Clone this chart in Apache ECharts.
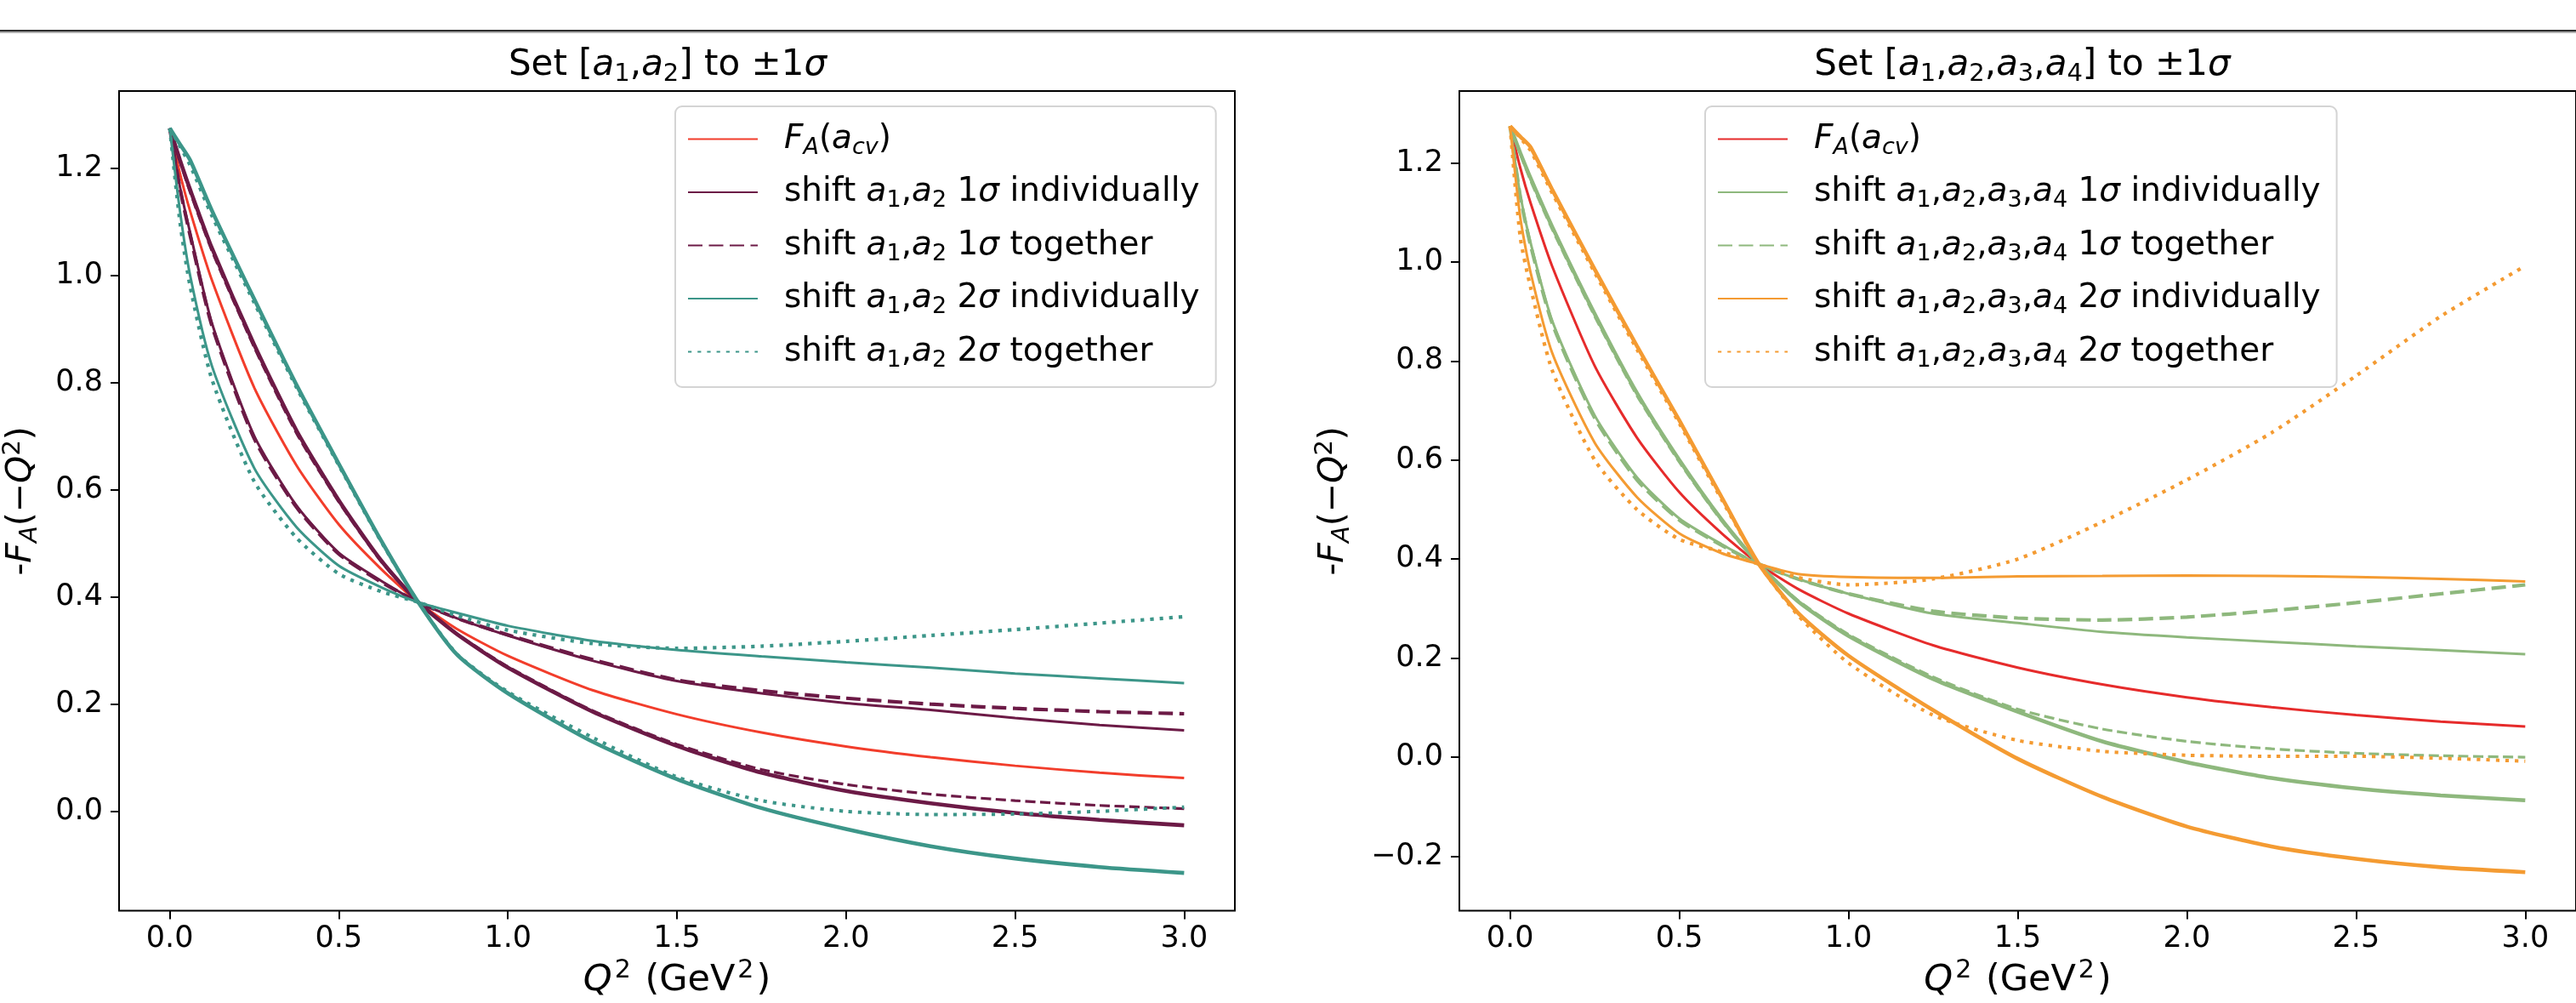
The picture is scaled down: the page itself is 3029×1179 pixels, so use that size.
<!DOCTYPE html>
<html><head><meta charset="utf-8">
<script src="https://cdn.jsdelivr.net/npm/echarts@6/dist/echarts.min.js"></script>
<style>html,body{margin:0;padding:0;background:#fff}#c{width:3029px;height:1179px}</style>
</head><body><div id="c"></div><script>
// ---- data ----
const Q2 = [0, 0.03, 0.06, 0.125, 0.25, 0.375, 0.5, 0.625, 0.735, 0.85, 1.0, 1.25, 1.5, 1.75, 2.0, 2.25, 2.5, 2.75, 3.0];
const X_TICKS = [0, 0.5, 1.0, 1.5, 2.0, 2.5, 3.0];
const Y_TICKS_L = [0, 0.2, 0.4, 0.6, 0.8, 1.0, 1.2];
const Y_TICKS_R = [-0.2, 0, 0.2, 0.4, 0.6, 0.8, 1.0, 1.2];

const FA_CV      = [1.274, 1.19, 1.12, 0.99, 0.79, 0.645, 0.535, 0.452, 0.39, 0.34, 0.29, 0.226, 0.181, 0.147, 0.121, 0.101, 0.085, 0.072, 0.062];
// left panel: shift a1,a2
const L1_IND_LO  = [1.274, 1.215, 1.16, 1.05, 0.87, 0.71, 0.58, 0.468, 0.39, 0.33, 0.268, 0.186, 0.122, 0.072, 0.038, 0.015, -0.003, -0.016, -0.026];
const L1_IND_HI  = [1.274, 1.165, 1.08, 0.91, 0.70, 0.57, 0.482, 0.43, 0.39, 0.36, 0.328, 0.281, 0.243, 0.22, 0.202, 0.189, 0.174, 0.161, 0.151];
const L1_TOG_LO  = [1.274, 1.212, 1.155, 1.045, 0.865, 0.705, 0.577, 0.466, 0.39, 0.331, 0.27, 0.188, 0.125, 0.078, 0.05, 0.032, 0.02, 0.011, 0.005];
const L1_TOG_HI  = [1.274, 1.162, 1.075, 0.905, 0.695, 0.567, 0.48, 0.428, 0.39, 0.36, 0.329, 0.283, 0.245, 0.225, 0.211, 0.2, 0.192, 0.186, 0.182];
const L2_IND_LO  = [1.274, 1.2445, 1.215, 1.12, 0.955, 0.795, 0.648, 0.505, 0.39, 0.292, 0.22, 0.13, 0.06, 0.006, -0.033, -0.065, -0.088, -0.104, -0.115];
const L2_IND_HI  = [1.274, 1.12, 1.0, 0.83, 0.64, 0.53, 0.458, 0.418, 0.39, 0.37, 0.346, 0.318, 0.301, 0.289, 0.278, 0.268, 0.257, 0.248, 0.239];
const L2_TOG_LO  = [1.274, 1.24, 1.205, 1.11, 0.948, 0.79, 0.645, 0.503, 0.39, 0.293, 0.223, 0.138, 0.064, 0.02, 0.0, -0.006, -0.005, 0.0, 0.008];
const L2_TOG_HI  = [1.274, 1.10, 0.98, 0.805, 0.615, 0.51, 0.443, 0.41, 0.39, 0.365, 0.338, 0.313, 0.304, 0.308, 0.317, 0.328, 0.339, 0.351, 0.363];
// right panel: shift a1..a4
const R1_IND_LO  = [1.274, 1.22, 1.17, 1.07, 0.895, 0.735, 0.6, 0.48, 0.39, 0.315, 0.245, 0.158, 0.092, 0.032, -0.01, -0.042, -0.063, -0.077, -0.087];
const R1_IND_HI  = [1.274, 1.135, 1.04, 0.88, 0.69, 0.565, 0.482, 0.43, 0.39, 0.36, 0.33, 0.29, 0.271, 0.253, 0.242, 0.233, 0.224, 0.216, 0.208];
const R1_TOG_LO  = [1.274, 1.218, 1.165, 1.065, 0.89, 0.73, 0.596, 0.477, 0.39, 0.317, 0.248, 0.162, 0.097, 0.057, 0.032, 0.017, 0.008, 0.003, 0.0];
const R1_TOG_HI  = [1.274, 1.132, 1.035, 0.875, 0.685, 0.56, 0.479, 0.428, 0.39, 0.36, 0.33, 0.295, 0.281, 0.277, 0.283, 0.296, 0.312, 0.33, 0.348];
const R2_IND_LO  = [1.274, 1.253, 1.232, 1.145, 0.985, 0.83, 0.68, 0.525, 0.39, 0.292, 0.205, 0.095, -0.003, -0.08, -0.14, -0.18, -0.205, -0.222, -0.232];
const R2_IND_HI  = [1.274, 1.09, 0.98, 0.815, 0.635, 0.525, 0.452, 0.412, 0.39, 0.37, 0.364, 0.362, 0.365, 0.366, 0.367, 0.366, 0.364, 0.36, 0.355];
const R2_TOG_LO  = [1.274, 1.25, 1.225, 1.138, 0.978, 0.823, 0.674, 0.52, 0.39, 0.287, 0.19, 0.085, 0.034, 0.012, 0.004, 0.002, 0.002, -0.002, -0.008];
const R2_TOG_HI  = [1.274, 1.05, 0.95, 0.78, 0.60, 0.50, 0.44, 0.415, 0.39, 0.363, 0.348, 0.36, 0.40, 0.475, 0.56, 0.655, 0.77, 0.89, 0.992];

// ---- styling ----
const FF = 'DejaVu Sans';
function richSet(fs, supPad) {
  const lh = Math.round(fs * 1.2), ss = Math.round(fs * 0.7);
  const b = {fontFamily: FF, color: '#000', fontWeight: 'normal'};
  return {
    n:  Object.assign({fontSize: fs, lineHeight: lh}, b),
    i:  Object.assign({fontSize: fs, fontStyle: 'italic', lineHeight: lh}, b),
    s:  Object.assign({fontSize: ss, lineHeight: ss, verticalAlign: 'bottom'}, b),
    si: Object.assign({fontSize: ss, fontStyle: 'italic', lineHeight: ss, verticalAlign: 'bottom'}, b),
    sup:Object.assign({fontSize: ss, lineHeight: Math.round(ss * 1.3), verticalAlign: 'top', padding: [0, supPad || 0, 0, supPad || 0]}, b),
    sp: Object.assign({width: 26, fontSize: fs, lineHeight: lh}, b)
  };
}
const R39 = richSet(39), R41 = richSet(41), R42 = richSet(42), R43 = richSet(43, 3);

const A12 = '{i|a}{s|1}{n|,}{i|a}{s|2}';
const A1234 = '{i|a}{s|1}{n|,}{i|a}{s|2}{n|,}{i|a}{s|3}{n|,}{i|a}{s|4}';
const LABELS = {
  L_red: '{sp| }{i|F}{si|A}{n|(}{i|a}{si|cv}{n|)}',
  L_m:   '{sp| }{n|shift }' + A12 + '{n| 1}{i|σ}{n| individually}',
  L_md:  '{sp| }{n|shift }' + A12 + '{n| 1}{i|σ}{n| together}',
  L_t:   '{sp| }{n|shift }' + A12 + '{n| 2}{i|σ}{n| individually}',
  L_td:  '{sp| }{n|shift }' + A12 + '{n| 2}{i|σ}{n| together}',
  R_red: '{sp| }{i|F}{si|A}{n|(}{i|a}{si|cv}{n|)}',
  R_g:   '{sp| }{n|shift }' + A1234 + '{n| 1}{i|σ}{n| individually}',
  R_gd:  '{sp| }{n|shift }' + A1234 + '{n| 1}{i|σ}{n| together}',
  R_o:   '{sp| }{n|shift }' + A1234 + '{n| 2}{i|σ}{n| individually}',
  R_od:  '{sp| }{n|shift }' + A1234 + '{n| 2}{i|σ}{n| together}'
};

const C = {redL: '#f23d2b', maroon: '#6c1a46', teal: '#3c9689', redR: '#e62b2b', green: '#8eb87d', orange: '#f49b32'};
const DASH_W = [17, 7.5], DASH_N = [12, 5.5], DOT = [4.2, 7];

function mk(name, vals, color, width, type, gi) {
  return {
    type: 'line', name, xAxisIndex: gi, yAxisIndex: gi,
    data: Q2.map((x, k) => [x, vals[k]]),
    symbol: 'none', showSymbol: false, smooth: 0.22,
    lineStyle: {color, width, type, cap: 'butt'}, itemStyle: {color},
    emphasis: {disabled: true}, silent: true, z: 2
  };
}
const series = [
  mk('L_red', FA_CV, C.redL, 3, 'solid', 0),
  mk('L_m', L1_IND_LO, C.maroon, 4.6, 'solid', 0),
  mk('L_m', L1_IND_HI, C.maroon, 3, 'solid', 0),
  mk('L_md', L1_TOG_HI, C.maroon, 4.2, DASH_W, 0),
  mk('L_md', L1_TOG_LO, C.maroon, 3.2, DASH_N, 0),
  mk('L_t', L2_IND_LO, C.teal, 4.6, 'solid', 0),
  mk('L_t', L2_IND_HI, C.teal, 3, 'solid', 0),
  mk('L_td', L2_TOG_HI, C.teal, 4.2, DOT, 0),
  mk('L_td', L2_TOG_LO, C.teal, 4.0, DOT, 0),
  mk('R_red', FA_CV, C.redR, 3, 'solid', 1),
  mk('R_g', R1_IND_LO, C.green, 4.6, 'solid', 1),
  mk('R_g', R1_IND_HI, C.green, 3, 'solid', 1),
  mk('R_gd', R1_TOG_HI, C.green, 4.2, DASH_W, 1),
  mk('R_gd', R1_TOG_LO, C.green, 3.2, DASH_N, 1),
  mk('R_o', R2_IND_LO, C.orange, 4.6, 'solid', 1),
  mk('R_o', R2_IND_HI, C.orange, 3, 'solid', 1),
  mk('R_od', R2_TOG_HI, C.orange, 4.2, DOT, 1),
  mk('R_od', R2_TOG_LO, C.orange, 4.0, DOT, 1)
];

function fmtNum(v) { const s = Math.abs(v).toFixed(1); return v < -1e-9 ? '−' + s : s; }
function xAx(gi) {
  return {
    gridIndex: gi, type: 'value', min: -0.15, max: 3.15,
    axisLine: {show: false, onZero: false}, splitLine: {show: false},
    axisTick: {show: true, customValues: X_TICKS, length: 10, lineStyle: {color: '#000', width: 2}},
    axisLabel: {customValues: X_TICKS, formatter: fmtNum, fontSize: 35, fontFamily: FF, color: '#000', margin: 16, lineHeight: 35},
    name: '{i|Q}{sup|2}{n| (GeV}{sup|2}{n|)}', nameLocation: 'middle', nameGap: 52,
    nameTextStyle: {rich: R43, fontSize: 43, fontFamily: FF, color: '#000'}
  };
}
function yAx(gi, min, max, ticks, gap) {
  return {
    gridIndex: gi, type: 'value', min, max,
    axisLine: {show: false, onZero: false}, splitLine: {show: false},
    axisTick: {show: true, customValues: ticks, length: 10, lineStyle: {color: '#000', width: 2}},
    axisLabel: {customValues: ticks, formatter: fmtNum, fontSize: 35, fontFamily: FF, color: '#000', margin: 19},
    name: '{n|-}{i|F}{si|A}{n|(−}{i|Q}{sup|2}{n|)}', nameLocation: 'middle', nameGap: gap,
    nameTextStyle: {rich: R41, fontSize: 41, fontFamily: FF, color: '#000'}
  };
}
function legend(left, names) {
  return {
    orient: 'vertical', left, top: 125, data: names, selectedMode: false,
    itemWidth: 82, itemHeight: 14, itemGap: 19.5, padding: [19, 19, 18, 14],
    backgroundColor: 'rgba(255,255,255,0.8)', borderColor: '#d4d4d4', borderWidth: 2, borderRadius: 8,
    itemStyle: {opacity: 0, borderWidth: 0},
    formatter: n => LABELS[n],
    textStyle: {rich: R39, fontSize: 39, fontFamily: FF, color: '#000'}
  };
}

const chart = echarts.init(document.getElementById('c'), null, {renderer: 'canvas'});
chart.setOption({
  animation: false,
  backgroundColor: '#fff',
  title: [
    {text: '{n|Set [}' + A12 + '{n|] to ±1}{i|σ}', left: 785, top: 52, textAlign: 'center', padding: 0,
     textStyle: {rich: R42, fontSize: 42, fontFamily: FF, fontWeight: 'normal'}},
    {text: '{n|Set [}' + A1234 + '{n|] to ±1}{i|σ}', left: 2378, top: 52, textAlign: 'center', padding: 0,
     textStyle: {rich: R42, fontSize: 42, fontFamily: FF, fontWeight: 'normal'}}
  ],
  grid: [
    {left: 127, top: 107, width: 1325, height: 965, show: true, borderColor: '#000', borderWidth: 2, backgroundColor: 'transparent'},
    {left: 1716, top: 107, width: 1325, height: 965, show: true, borderColor: '#000', borderWidth: 2, backgroundColor: 'transparent'}
  ],
  xAxis: [xAx(0), xAx(1)],
  yAxis: [yAx(0, -0.1855, 1.3435, Y_TICKS_L, 90), yAx(1, -0.31, 1.345, Y_TICKS_R, 123)],
  legend: [legend(794, ['L_red', 'L_m', 'L_md', 'L_t', 'L_td']), legend(2005, ['R_red', 'R_g', 'R_gd', 'R_o', 'R_od'])],
  graphic: [
    {type: 'rect', shape: {x: 0, y: 35, width: 3029, height: 2.5}, style: {fill: '#2e2e2e'}, silent: true},
    {type: 'rect', shape: {x: 0, y: 37.5, width: 3029, height: 1.5}, style: {fill: '#b5b5b5'}, silent: true}
  ],
  series
});
</script></body></html>
